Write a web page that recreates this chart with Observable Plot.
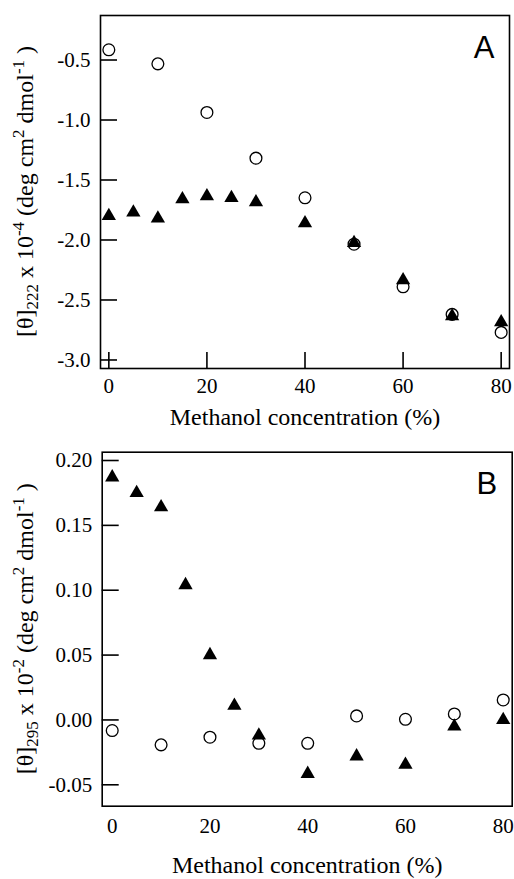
<!DOCTYPE html>
<html><head><meta charset="utf-8">
<script src="https://cdn.jsdelivr.net/npm/d3@7"></script>
<script src="https://cdn.jsdelivr.net/npm/@observablehq/plot@0.6"></script>
<style>body{margin:0;background:#fff} #c{width:514px} svg{display:block}</style>
</head><body><div id="c"></div>
<script>
// Methanol concentration (%)
const concTri = [0, 5, 10, 15, 20, 25, 30, 40, 50, 60, 70, 80];
const concCirc = [0, 10, 20, 30, 40, 50, 60, 70, 80];
// Panel A: [θ]222 × 10^-4
const aTriangles = [-1.80, -1.77, -1.82, -1.66, -1.635, -1.65, -1.685, -1.86, -2.025, -2.335, -2.635, -2.685];
const aCircles = [-0.415, -0.532, -0.937, -1.318, -1.648, -2.035, -2.39, -2.62, -2.77];
// Panel B: [θ]295 × 10^-2
const bTriangles = [0.187, 0.175, 0.164, 0.104, 0.050, 0.011, -0.012, -0.0415, -0.028, -0.0345, -0.005, 0.000];
const bCircles = [-0.0082, -0.0192, -0.0133, -0.018, -0.018, 0.0031, 0.0005, 0.0046, 0.0154];
const xTicks = [0, 20, 40, 60, 80];
const aYTicks = [-0.5, -1.0, -1.5, -2.0, -2.5, -3.0];
const bYTicks = [0.20, 0.15, 0.10, 0.05, 0.00, -0.05];
const xLabel = "Methanol concentration (%)";

function panel(o) {
  const triData = concTri.map((x, i) => ({x, y: o.tri[i]}));
  const circData = concCirc.map((x, i) => ({x, y: o.circ[i]}));
  const svg = Plot.plot({
    width: 514, height: o.height,
    marginLeft: o.ml, marginRight: o.mr, marginTop: o.mt, marginBottom: o.mb,
    style: {fontFamily: "Liberation Serif", fontSize: "21px", color: "black", background: "white", overflow: "visible"},
    x: {domain: o.xDomain},
    y: {domain: o.yDomain},
    marks: [
      Plot.axisY({ticks: o.yTicks, tickSize: -17, tickPadding: 27, tickFormat: o.yFmt, strokeWidth: 1.6, label: null, fontSize: 21}),
      Plot.axisX({ticks: xTicks, tickSize: o.xTickSize, tickPadding: o.xTickPad, strokeWidth: 1.6, label: null, fontSize: 21}),
      Plot.frame({stroke: "black", strokeWidth: 1.6}),
      Plot.dot(triData, {x: "x", y: "y", symbol: "triangle", r: 5.3, fill: "black", stroke: "none"}),
      Plot.dot(circData, {x: "x", y: "y", r: 5.9, stroke: "black", strokeWidth: 1.3, fill: "none"}),
      Plot.text([o.letter], {text: d => d, frameAnchor: "top-right", dx: o.letterDx, dy: o.letterDy, fontFamily: "Liberation Sans", fontSize: 31, textAnchor: "end", lineAnchor: "middle"}),
      Plot.text([xLabel], {text: d => d, frameAnchor: "bottom", dy: o.labelDy, fontSize: 24, lineAnchor: "middle"})
    ]
  });
  // rotated y-axis label with sub/superscripts
  const cy = o.mt + (o.height - o.mt - o.mb) / 2;
  const t = d3.select(svg).append("text")
    .attr("transform", `translate(33,${cy}) rotate(-90)`)
    .attr("text-anchor", "middle")
    .attr("font-family", "Liberation Serif")
    .attr("font-size", 24)
    .attr("fill", "black");
  const parts = [
    ["[θ]", 0, 24],
    [o.sub, 5, 17],
    [" x 10", -5, 24],
    [o.exp, -9, 17],
    [" (deg cm", 9, 24],
    ["2", -9, 17],
    [" dmol", 9, 24],
    ["-1", -9, 17],
    [" )", 9, 24]
  ];
  for (const [s, dy, fs] of parts) t.append("tspan").attr("dy", dy).attr("font-size", fs).text(s);
  return svg;
}

const c = document.getElementById("c");
c.append(panel({
  height: 440, ml: 100, mr: 5, mt: 15, mb: 72,
  xDomain: [-1.7, 81.7], yDomain: [-3.071, -0.129],
  yTicks: aYTicks, yFmt: d => d.toFixed(1),
  xTickSize: -16, xTickPad: 26,
  tri: aTriangles, circ: aCircles,
  letter: "A", letterDx: -15, letterDy: 33, labelDy: 49,
  sub: "222", exp: "-4"
}));
c.append(panel({
  height: 439, ml: 101.7, mr: 2.3, mt: 11.7, mb: 73.3,
  xDomain: [-2.05, 81.84], yDomain: [-0.0665, 0.2064],
  yTicks: bYTicks, yFmt: d => d.toFixed(2),
  xTickSize: 0, xTickPad: 12,
  tri: bTriangles, circ: bCircles,
  letter: "B", letterDx: -15, letterDy: 32, labelDy: 59,
  sub: "295", exp: "-2"
}));
</script>
</body></html>
